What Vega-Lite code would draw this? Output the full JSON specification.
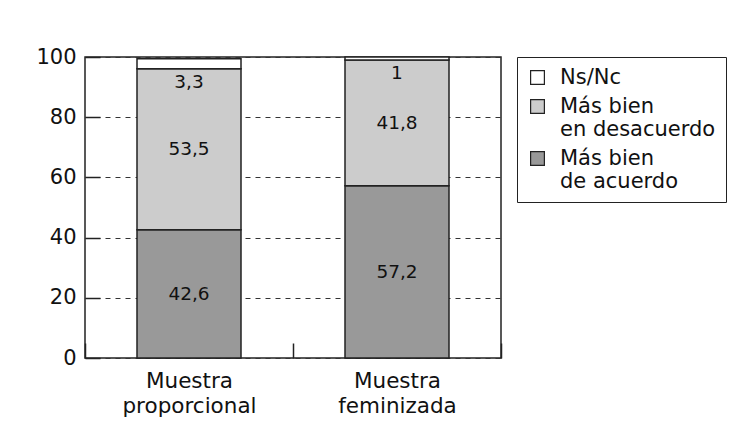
{
  "$schema": "https://vega.github.io/schema/vega-lite/v6.json",
  "width": 416,
  "height": 301,
  "autosize": {"type": "none"},
  "padding": {"left": 85, "top": 57, "right": 248, "bottom": 84},
  "background": "white",
  "data": {
    "values": [
      {"muestra": "Muestra proporcional", "respuesta": "Más bien de acuerdo", "valor": 42.6},
      {"muestra": "Muestra proporcional", "respuesta": "Más bien en desacuerdo", "valor": 53.5},
      {"muestra": "Muestra proporcional", "respuesta": "Ns/Nc", "valor": 3.3},
      {"muestra": "Muestra feminizada", "respuesta": "Más bien de acuerdo", "valor": 57.2},
      {"muestra": "Muestra feminizada", "respuesta": "Más bien en desacuerdo", "valor": 41.8},
      {"muestra": "Muestra feminizada", "respuesta": "Ns/Nc", "valor": 1}
    ]
  },
  "transform": [
    {"calculate": "indexof(['Más bien de acuerdo','Más bien en desacuerdo','Ns/Nc'], datum.respuesta)", "as": "orden"}
  ],
  "encoding": {
    "x": {
      "field": "muestra",
      "type": "nominal",
      "sort": ["Muestra proporcional", "Muestra feminizada"],
      "scale": {"paddingInner": 0, "paddingOuter": 0},
      "title": null,
      "axis": {
        "tickBand": "extent",
        "tickSize": -15,
        "tickColor": "#222",
        "tickWidth": 1.5,
        "domain": false,
        "grid": false,
        "labelAngle": 0,
        "labelFont": "DejaVu Sans",
        "labelFontSize": 21.5,
        "labelColor": "#111",
        "labelLineHeight": 25,
        "labelPadding": 27,
        "labelExpr": "split(datum.label, ' ')"
      }
    },
    "y": {
      "field": "valor",
      "type": "quantitative",
      "stack": "zero",
      "scale": {"domain": [0, 100], "nice": false},
      "title": null,
      "axis": {
        "values": [0, 20, 40, 60, 80, 100],
        "tickSize": -15,
        "tickColor": "#222",
        "tickWidth": 1.5,
        "domain": false,
        "grid": true,
        "gridDash": [5, 5],
        "gridColor": "#333",
        "gridWidth": 1,
        "labelFont": "DejaVu Sans",
        "labelFontSize": 21,
        "labelColor": "#111",
        "labelPadding": 24
      }
    },
    "order": {"field": "orden", "type": "quantitative"}
  },
  "layer": [
    {
      "mark": {"type": "bar", "width": {"band": 0.5}, "stroke": "#222", "strokeWidth": 1.5},
      "encoding": {
        "color": {
          "field": "respuesta",
          "type": "nominal",
          "scale": {
            "domain": ["Ns/Nc", "Más bien en desacuerdo", "Más bien de acuerdo"],
            "range": ["#ffffff", "#cccccc", "#999999"]
          },
          "legend": {
            "title": null,
            "orient": "right",
            "offset": 16,
            "padding": 10,
            "strokeColor": "#222",
            "symbolType": "square",
            "symbolSize": 190,
            "symbolStrokeColor": "#222",
            "symbolStrokeWidth": 1.2,
            "symbolOpacity": 1,
            "labelFont": "DejaVu Sans",
            "labelFontSize": 21,
            "labelColor": "#111",
            "labelOffset": 12,
            "rowPadding": 7,
            "labelLimit": 300,
            "labelExpr": "datum.label == 'Ns/Nc' ? datum.label : ['Más bien', substring(datum.label, 9)]"
          }
        }
      }
    },
    {
      "mark": {"type": "text", "font": "DejaVu Sans", "fontSize": 18.5, "color": "#111"},
      "encoding": {
        "y": {"field": "valor", "type": "quantitative", "stack": "zero", "bandPosition": 0.5},
        "detail": {"field": "respuesta"},
        "text": {
          "condition": {"test": "datum.respuesta !== 'Ns/Nc'", "field": "valor", "type": "quantitative", "format": "~g"},
          "value": ""
        }
      }
    },
    {
      "mark": {"type": "text", "font": "DejaVu Sans", "fontSize": 18.5, "color": "#111", "baseline": "top", "dy": 4},
      "encoding": {
        "y": {"field": "valor", "type": "quantitative", "stack": "zero", "bandPosition": 0},
        "detail": {"field": "respuesta"},
        "text": {
          "condition": {"test": "datum.respuesta === 'Ns/Nc'", "field": "valor", "type": "quantitative", "format": "~g"},
          "value": ""
        }
      }
    }
  ],
  "config": {
    "view": {"stroke": "#222", "strokeWidth": 1.5},
    "locale": {"number": {"decimal": ",", "thousands": ".", "grouping": [3], "currency": ["", " €"]}}
  }
}
